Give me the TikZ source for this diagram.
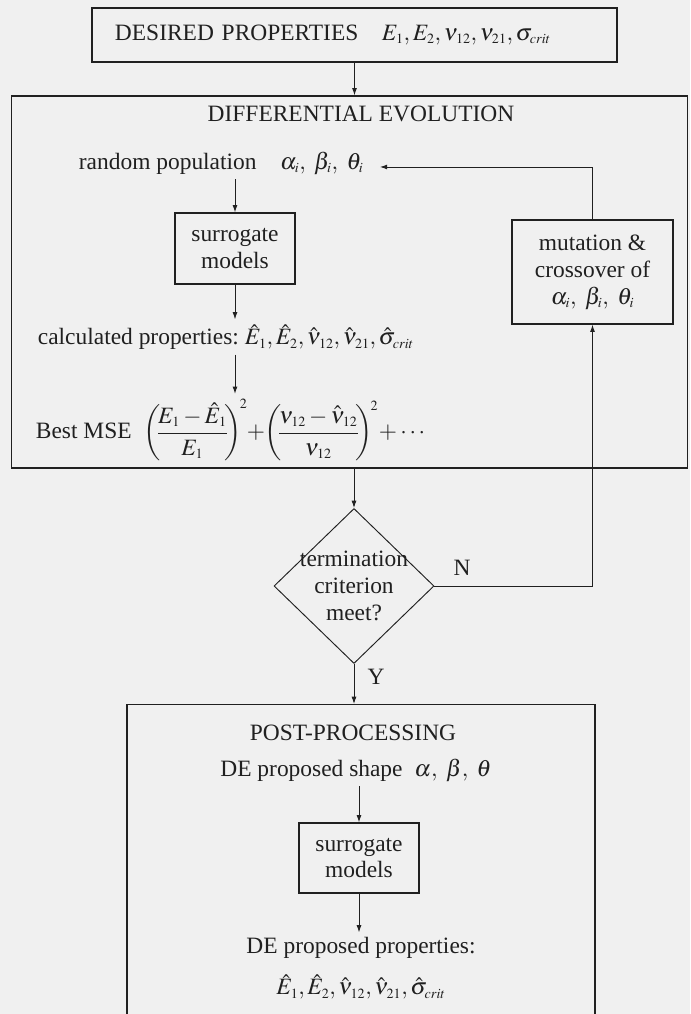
\documentclass[tikz,border=0pt]{standalone}
\usepackage{mathptmx}
\usepackage{fontspec}
\setmainfont{Liberation Serif}
\DeclareMathSizes{20}{20}{12}{9}
\usetikzlibrary{arrows.meta,positioning,shapes.geometric}
\definecolor{scanbg}{HTML}{F0F0F0}
\definecolor{ink}{HTML}{202020}
\tikzset{
  frame/.style={draw=ink, line width=1.1pt},
  box/.style={draw=ink, line width=1.1pt, align=center, inner sep=0pt},
  txt/.style={align=center, inner sep=4pt},
  decision/.style={diamond, draw=ink, line width=0.8pt, inner sep=0pt, minimum width=4.8cm, minimum height=4.65cm},
  arrow/.style={-{Latex[length=2.2mm,width=1.5mm]}, line width=0.8pt, draw=ink}
}

\begin{document}
\begin{tikzpicture}[x=0.03cm, y=-0.03cm, color=ink, font=\fontsize{20}{23}\selectfont]
  \fill[scanbg] (0,0) rectangle (690,1014);
  \clip (0,0) rectangle (690,1014);

  % input and the DE loop
  \node[box, align=left, text width=14.37cm, inner xsep=0.69cm, minimum height=1.62cm] (desired) at (354.5,35)
    {DESIRED PROPERTIES\quad $E_1,E_2,\nu_{12},\nu_{21},\sigma_{crit}$};
  \node[box, minimum width=20.28cm, minimum height=11.16cm] (defrm) at (349.5,282) {};
  \node[txt] (detitle) at (361,114) {DIFFERENTIAL EVOLUTION};
  \node[txt, anchor=west] (randpop) at (74,163) {random population\quad $\alpha_i,\ \beta_i,\ \theta_i$};
  \node[box, minimum width=3.6cm, minimum height=2.13cm] (surr1) at (235,248.5) {surrogate\\models};
  \node[txt, anchor=west] (calc) at (33,337)
    {calculated properties:\ $\hat{E}_1,\hat{E}_2,\hat{\nu}_{12},\hat{\nu}_{21},\hat{\sigma}_{crit}$};
  \node[txt, anchor=west] (mse) at (31,430)
    {Best MSE\ \ $\displaystyle\left(\mkern-3mu\frac{E_1-\hat{E}_1}{E_1}\mkern-3mu\right)^{\!2}\mkern-3mu+\mkern-3mu\left(\mkern-3mu\frac{\nu_{12}-\hat{\nu}_{12}}{\nu_{12}}\mkern-3mu\right)^{\!2}\mkern-2mu+\cdots$};
  \node[box, minimum width=4.83cm, minimum height=3.12cm] (mutate) at (592.5,272)
    {mutation \&\\crossover of\\$\alpha_i,\ \beta_i,\ \theta_i$};

  % stopping test
  \node[decision] (check) at (354,586) {};
  \node[txt] (checktext) at (check) {termination\\criterion\\meet?};
  \node[txt] (nlab) at (462,568) {N};
  \node[txt] (ylab) at (376,677) {Y};

  % post-processing
  \node[box, anchor=north, minimum width=14.04cm, minimum height=10.2cm] (post) at (361,704) {};
  \node[txt] (posttitle) at (353,733) {POST-PROCESSING};
  \node[txt] (shape) at (356,770) {DE proposed shape\ \ $\alpha,\ \beta,\ \theta$};
  \node[box, minimum width=3.6cm, minimum height=2.1cm] (surr2) at (359,858) {surrogate\\models};
  \node[txt] (props) at (361,948) {DE proposed properties:};
  \node[txt] (hats) at (361,987) {$\hat{E}_1,\hat{E}_2,\hat{\nu}_{12},\hat{\nu}_{21},\hat{\sigma}_{crit}$};

  \draw[arrow] (desired.south) -- (desired.south |- defrm.north);
  \draw[arrow] (surr1.north |- randpop.south) -- (surr1.north);
  \draw[arrow] (surr1.south) -- (surr1.south |- calc.north);
  \draw[arrow] (surr1.south |- calc.south) -- (surr1.south |- mse.north);
  \draw[arrow, shorten >=10pt] (mutate.north) |- ([yshift=-3.4pt]randpop.east);
  \draw[arrow] (check.north |- defrm.south) -- (check.north);
  \draw[arrow] (check.east) -| (mutate.south);
  \draw[arrow] (check.south) -- (check.south |- post.north);
  \draw[arrow] (surr2.north |- shape.south) -- (surr2.north);
  \draw[arrow] (surr2.south) -- (surr2.south |- props.north);
\end{tikzpicture}
\end{document}
